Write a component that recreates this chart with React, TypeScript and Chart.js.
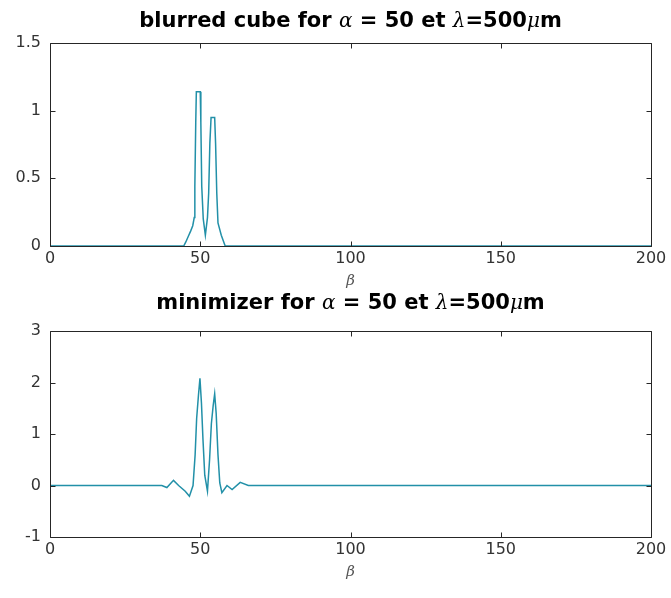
import React, { useEffect, useRef } from "react";
import { Chart, registerables } from "chart.js";

Chart.register(...registerables);

// ---- data ----
const blurBeta = [0, 44.5, 45.2, 46, 46.8, 47.5, 48, 48.2, 48.5, 48.7, 50, 50.2, 50.5, 51, 51.7, 52.4, 52.8, 53.2, 53.6, 54.8, 55.1, 55.5, 55.9, 57, 58.3, 200];
const blurValue = [0, 0, 0.03, 0.07, 0.11, 0.15, 0.21, 0.44, 0.91, 1.14, 1.14, 0.91, 0.44, 0.2, 0.08, 0.21, 0.39, 0.76, 0.95, 0.95, 0.76, 0.39, 0.17, 0.08, 0, 0];

const minBeta = [0, 37.2, 38.9, 41.1, 42.8, 45, 46.4, 47.6, 48.3, 48.8, 49.4, 49.9, 50.4, 50.9, 51.5, 52.4, 53.1, 53.7, 54.3, 54.8, 55.3, 55.9, 56.5, 57.2, 58.9, 60.6, 63.3, 66, 200];
const minValue = [0, 0, -0.04, 0.1, 0, -0.11, -0.21, 0, 0.6, 1.3, 1.75, 2.08, 1.6, 0.9, 0.2, -0.11, 0.5, 1.2, 1.55, 1.78, 1.4, 0.6, 0.05, -0.14, 0, -0.08, 0.06, 0, 0];

const xTicks = [0, 50, 100, 150, 200];
const blurYTicks = [0, 0.5, 1, 1.5];
const minYTicks = [-1, 0, 1, 2, 3];

type Seg = { t: string; f: string };
const sans = "bold 21px 'DejaVu Sans'";
const serif = "italic 20px 'DejaVu Serif'";
const blurTitle: Seg[] = [
  { t: "blurred cube for ", f: sans },
  { t: "α", f: serif },
  { t: " = 50 et ", f: sans },
  { t: "λ", f: serif },
  { t: "=500", f: sans },
  { t: "μ", f: serif },
  { t: "m", f: sans },
];
const minTitle: Seg[] = [
  { t: "minimizer for ", f: sans },
  { t: "α", f: serif },
  { t: " = 50 et ", f: sans },
  { t: "λ", f: serif },
  { t: "=500", f: sans },
  { t: "μ", f: serif },
  { t: "m", f: sans },
];

const LINE = "#2290a8";
const AX = "#262626";
const TICK = "#333333";

function makeConfig(xs: number[], ys: number[], ymin: number, ymax: number, yTicks: number[], title: Seg[], titleOffset: number, padTop: number, padBottom: number) {
  const boxPlugin = {
    id: "box",
    afterDraw(chart: any) {
      const ctx = chart.ctx;
      const a = chart.chartArea;
      const xs_ = chart.scales.x;
      const ys_ = chart.scales.y;
      ctx.save();
      ctx.strokeStyle = AX;
      ctx.lineWidth = 1;
      const L = Math.round(a.left) + 0.5, R = Math.round(a.right) + 0.5, T = Math.round(a.top) + 0.5, B = Math.round(a.bottom) + 0.5;
      ctx.beginPath();
      ctx.rect(L, T, R - L, B - T);
      for (const v of xTicks) {
        const px = Math.round(xs_.getPixelForValue(v)) + 0.5;
        ctx.moveTo(px, B); ctx.lineTo(px, B - 5);
        ctx.moveTo(px, T); ctx.lineTo(px, T + 5);
      }
      for (const v of yTicks) {
        const py = Math.round(ys_.getPixelForValue(v)) + 0.5;
        ctx.moveTo(L, py); ctx.lineTo(L + 5, py);
        ctx.moveTo(R, py); ctx.lineTo(R - 5, py);
      }
      ctx.stroke();
      // title
      let w = 0;
      for (const s of title) { ctx.font = s.f; w += ctx.measureText(s.t).width; }
      let x = (a.left + a.right) / 2 - w / 2;
      const y = a.top - titleOffset;
      ctx.fillStyle = "#000";
      ctx.textBaseline = "alphabetic";
      ctx.textAlign = "left";
      for (const s of title) { ctx.font = s.f; ctx.fillText(s.t, x, y); x += ctx.measureText(s.t).width; }
      ctx.restore();
    },
  };
  return {
    type: "line" as const,
    data: {
      datasets: [
        {
          data: xs.map((x, i) => ({ x, y: ys[i] })),
          borderColor: LINE,
          borderWidth: 1.5,
          pointRadius: 0,
          tension: 0,
          fill: false,
        },
      ],
    },
    options: {
      animation: false as const,
      responsive: false,
      maintainAspectRatio: false,
      layout: { padding: { left: 0, right: 20, top: padTop, bottom: padBottom } },
      plugins: { legend: { display: false }, tooltip: { enabled: false }, title: { display: false } },
      scales: {
        x: {
          type: "linear" as const,
          min: 0,
          max: 200,
          afterBuildTicks: (s: any) => { s.ticks = xTicks.map((v) => ({ value: v })); },
          ticks: { color: TICK, font: { family: "DejaVu Sans", size: 16 }, padding: 3, maxRotation: 0, callback: (v: any) => String(v) },
          grid: { display: false, drawTicks: false },
          border: { display: false },
          title: { display: true, text: "β", color: "#555", font: { family: "DejaVu Serif", style: "italic" as const, size: 15 }, padding: { top: 0, bottom: 0 } },
          afterFit: (s: any) => { s.height = 44; },
        },
        y: {
          type: "linear" as const,
          min: ymin,
          max: ymax,
          afterBuildTicks: (s: any) => { s.ticks = yTicks.map((v) => ({ value: v })); },
          ticks: { color: TICK, font: { family: "DejaVu Sans", size: 16 }, padding: 9, callback: (v: any) => String(v) },
          grid: { display: false, drawTicks: false },
          border: { display: false },
          afterFit: (s: any) => { s.width = 50; },
        },
      },
    },
    plugins: [boxPlugin],
  };
}

function Panel({ top, height, cfg }: { top: number; height: number; cfg: any }) {
  const ref = useRef<HTMLCanvasElement>(null);
  useEffect(() => {
    if (!ref.current) return;
    const c = new Chart(ref.current, cfg);
    return () => c.destroy();
  }, []);
  return <canvas ref={ref} width={671} height={height} style={{ position: "absolute", left: 0, top, width: 671, height }} />;
}

export default function App() {
  useEffect(() => {
    document.body.style.margin = "0";
    document.body.style.background = "#fff";
  }, []);
  const cfg1 = makeConfig(blurBeta, blurValue, 0, 1.5, blurYTicks, blurTitle, 16, 43, 0);
  const cfg2 = makeConfig(minBeta, minValue, -1, 3, minYTicks, minTitle, 22, 41, 17);
  return (
    <div style={{ position: "relative", width: 671, height: 598, background: "#fff" }}>
      <Panel top={0} height={290} cfg={cfg1} />
      <Panel top={290} height={308} cfg={cfg2} />
    </div>
  );
}
